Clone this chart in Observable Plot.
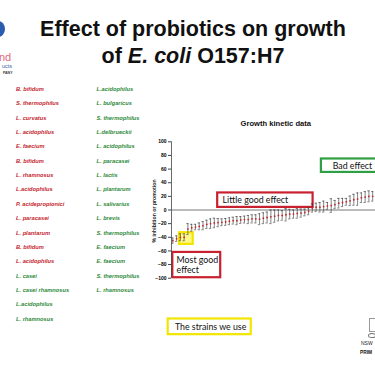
<!DOCTYPE html>
<html>
<head>
<meta charset="utf-8">
<script src="https://cdn.jsdelivr.net/npm/d3@7"></script>
<script src="https://cdn.jsdelivr.net/npm/@observablehq/plot@0.6"></script>
<style>
  html, body { margin: 0; padding: 0; background: #fff; overflow: hidden; }
  #slide { position: relative; width: 375px; height: 366px; overflow: hidden; font-family: "Liberation Sans", Arial, sans-serif; }
  #slide svg { position: absolute; left: 0; top: 0; overflow: hidden; }
  .ov { position: absolute; white-space: nowrap; }
  .title { left: 0; width: 386px; text-align: center; font-weight: bold; font-size: 21.5px; color: #111; line-height: 1; }
  .strain { font-style: italic; font-weight: bold; font-size: 5.7px; line-height: 1; }
</style>
</head>
<body>
<div id="slide"></div>
<script>
// ---- data ----
const titleLine1 = "Effect of probiotics on growth";
const chartTitle = "Growth kinetic data";
const yLabel = "% inhibition or promotion";
const yTicks = [100, 80, 60, 40, 20, 0, -20, -40, -60, -80, -100];

// strain lists (text, colour group)
const strainsCol1 = ["B. bifidum", "S. thermophilus", "L. curvatus", "L. acidophilus", "E. faecium", "B. bifidum",
  "L. rhamnosus", "L.acidophilus", "P. acidepropionici", "L. paracasei", "L. plantarum", "B. bifidum",
  "L. acidophilus", "L. casei", "L. casei rhamnosus", "L.acidophilus", "L. rhamnosus"];
const groupCol1 = ["r","r","r","r","r","r","r","r","r","r","r","r","r","g","g","g","g"];
const strainsCol2 = ["L.acidophilus", "L. bulgaricus", "S. thermophilus", "L.delbrueckii", "L. acidophilus",
  "L. paracasei", "L. lactis", "L. plantarum", "L. salivarius", "L. brevis", "S. thermophilus",
  "E. faecium", "E. faecium", "S. thermophilus", "L. rhamnosus"];

// growth kinetic values (% inhibition or promotion) and error half-widths
const values = [-45, -42, -40, -40, -28, -26, -25, -24, -23, -21, -20, -19, -18.5, -18, -17.5, -16.5,
  -15.6, -15.6, -14.6, -14, -14, -13, -13, -13.5, -12, -11, -10, -9, -8, -8, -7, -6, -6, -5, -4.5,
  -3.5, -2, 3, 4, 4, 5, 6, 6.5, 8, 10, 11, 12, 13.5, 15, 16, 18, 19, 20, 20];
const errors = [4, 4, 5, 5, 8, 5, 4, 5, 6, 6, 7, 7, 6, 5, 5, 5, 5, 6, 5, 5, 6, 6, 6, 8, 8, 8, 10, 9, 8,
  7, 9, 7, 6, 7, 6, 5, 5, 6, 6, 7, 8, 5, 10, 6, 7, 6, 5, 7, 8, 9, 7, 8, 8, 7];

// annotation boxes in data units (index, value)
const boxLabels = ["Little good effect", "Most good|effect", "Bad effect", "", "The strains we use"];
const boxX1 = [11.9, 0, 39.4, 1.77, -1.23];
const boxX2 = [37.2, 12.7, 66, 5.41, 20.8];
const boxY1 = [25, -62.2, 74.8, -33.3, -159.8];
const boxY2 = [3.8, -99.3, 55.1, -50.4, -182.8];
const boxTextX = [13.2, 1.0, 42.4, 0, 0.55];
const boxColor = ["#c8202f", "#c8202f", "#2ea043", "#f2e600", "#f2e600"];

// ---- build ----
const pts = values.map((v, i) => ({i, v, lo: v - errors[i], hi: v + errors[i]}));
const boxes = boxLabels.map((t, k) => ({t, x1: boxX1[k], x2: boxX2[k], y1: boxY1[k], y2: boxY2[k], c: boxColor[k],
  tx: boxTextX[k], fill: k === 3 ? "#fff78a" : "#fff"}));
const xDom = [-0.35, 53.75];

const plot = Plot.plot({
  width: 375, height: 366,
  marginLeft: 171, marginRight: 0, marginTop: 141.3, marginBottom: 88.3,
  style: {fontFamily: "'Liberation Sans', Arial, sans-serif", background: "transparent", overflow: "hidden"},
  x: {domain: xDom, axis: null},
  y: {domain: [-100, 100], axis: null},
  marks: [
    Plot.rect(boxes, {x1: "x1", x2: "x2", y1: "y1", y2: "y2", stroke: "c", fill: "fill", strokeWidth: 2.2}),
    Plot.axisY({ticks: yTicks, tickSize: 3, tickPadding: 2, fontSize: 5, fontWeight: "bold", label: null, stroke: "#444"}),
    Plot.ruleX([xDom[0]], {y1: -100, y2: 100, stroke: "#444", strokeWidth: 0.8}),
    Plot.ruleY([0], {x1: xDom[0], x2: 60, stroke: "#555", strokeWidth: 0.8}),
    Plot.text([yLabel], {x: xDom[0], y: 0, dx: -17, dy: 1, rotate: -90, fontSize: 5.2, fontWeight: "bold", fill: "#222"}),
    Plot.text([chartTitle], {x: 27.3, y: 100, dy: -18, fontSize: 7.6, fontWeight: "bold", fill: "#111"}),
    Plot.ruleX(pts, {x: "i", y1: "lo", y2: "hi", stroke: "#333", strokeWidth: 0.6}),
    Plot.ruleY(pts, {x1: d => d.i - 0.3, x2: d => d.i + 0.3, y: "hi", stroke: "#333", strokeWidth: 0.6}),
    Plot.ruleY(pts, {x1: d => d.i - 0.3, x2: d => d.i + 0.3, y: "lo", stroke: "#333", strokeWidth: 0.6}),
    Plot.dot(pts, {x: "i", y: "v", r: 0.9, fill: "#c0282d"}),
    Plot.text(boxes.filter(b => b.t), {
      x: "tx", y: d => (d.y1 + d.y2) / 2, text: d => d.t.replace("|", "\n"),
      textAnchor: "start", lineHeight: 1.1, fontSize: 8.8,
      fontFamily: "Lato, 'Open Sans', sans-serif", fill: "#111"})
  ]
});

const slide = document.getElementById("slide");
slide.appendChild(plot);

function add(html, cls, style) {
  const d = document.createElement("div");
  d.className = "ov " + cls;
  d.innerHTML = html;
  Object.assign(d.style, style);
  slide.appendChild(d);
  return d;
}
// title
add(titleLine1, "title", {top: "19px"});
add("of <i>E. coli</i> O157:H7", "title", {top: "46px"});

// strain lists
strainsCol1.forEach((s, k) => add(s, "strain", {left: "16px", top: (87 + k * 14.35) + "px",
  color: groupCol1[k] === "r" ? "#c4262e" : "#2f8a3a"}));
strainsCol2.forEach((s, k) => add(s, "strain", {left: "96.5px", top: (87 + k * 14.35) + "px", color: "#2f8a3a"}));

// left logo fragments
add("", "", {left: "-9px", top: "21px", width: "14px", height: "16px", borderRadius: "50%", background: "#2a5db0"});
add("nd", "", {left: "-1px", top: "51px", fontSize: "11px", color: "#e2687a", fontFamily: "Arial"});
add("ucts", "", {left: "2px", top: "63px", fontSize: "5.5px", color: "#3c63b0"});
add("PANY", "", {left: "3px", top: "71px", fontSize: "3.5px", fontWeight: "bold", color: "#333"});

// right logo fragments
add("", "", {left: "369px", top: "318px", width: "5px", height: "12px", border: "1px solid #999"});
add("", "", {left: "368px", top: "333px", width: "6px", height: "3px", borderRadius: "50%", border: "1px solid #777"});
add("NSW", "", {left: "361px", top: "340px", fontSize: "5px", color: "#222"});
add("PRIM", "", {left: "360px", top: "350px", fontSize: "4.8px", fontWeight: "bold", color: "#111"});
</script>
</body>
</html>
